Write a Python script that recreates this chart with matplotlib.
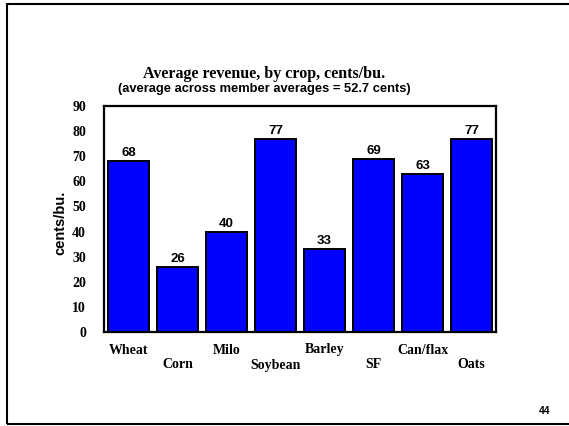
import matplotlib
matplotlib.use("Agg")
import matplotlib.pyplot as plt
from matplotlib.patches import Rectangle

# Données
crops = ["Wheat", "Corn", "Milo", "Soybean", "Barley", "SF", "Can/flax", "Oats"]
revenue = [68, 26, 40, 77, 33, 69, 63, 77]
yticks = [0, 10, 20, 30, 40, 50, 60, 70, 80, 90]

W, H = 569, 426
fig = plt.figure(figsize=(W / 100, H / 100), dpi=100)
ax = fig.add_axes([104 / W, 1 - 332 / H, (496 - 104) / W, (332 - 106) / H])

x = list(range(len(crops)))
ax.bar(x, revenue, width=0.84, color="#0000ff", edgecolor="black", linewidth=1.4)

for xi, v in zip(x, revenue):
    ax.text(xi, v + 0.8, f"{v}", ha="center", va="bottom",
            fontsize=9.5, fontweight="bold", family="Liberation Sans")

ax.set_xlim(-0.5, len(crops) - 0.5)
ax.set_ylim(0, 90)
ax.set_yticks(yticks)
ax.set_yticklabels([str(t) for t in yticks], family="Liberation Serif",
                   fontweight="bold", fontsize=10)
ax.tick_params(axis="y", length=0, pad=13)
ax.set_xticks([])
for s in ax.spines.values():
    s.set_linewidth(1.6)

# étiquettes x en quinconce
for xi, name in zip(x, crops):
    off = 18 if xi % 2 == 0 else 33
    ax.annotate(name, (xi, 0), xytext=(0, -off), textcoords="offset pixels",
                ha="center", va="center", fontsize=10, fontweight="bold",
                family="Liberation Serif", annotation_clip=False)

fig.text(60 / W, 1 - 223 / H, "cents/bu.", rotation=90, ha="center", va="center",
         fontsize=10.5, fontweight="bold", family="Liberation Sans")

fig.text(264 / W, 1 - 74 / H, "Average revenue, by crop, cents/bu.",
         ha="center", va="center", fontsize=11.5, fontweight="bold",
         family="Liberation Serif")
fig.text(264 / W, 1 - 89 / H, "(average across member averages = 52.7 cents)",
         ha="center", va="center", fontsize=9.3, fontweight="bold",
         family="Liberation Sans")

fig.text(545 / W, 1 - 411 / H, "44", ha="center", va="center",
         fontsize=7.5, fontweight="bold", family="Liberation Sans")

# cadre de la diapositive
fig.patches.append(Rectangle((7 / W, 1 - 424 / H), 1.0, (424 - 4) / H,
                             transform=fig.transFigure, fill=False,
                             edgecolor="black", linewidth=1.5))

fig.savefig("out.png", dpi=100)
